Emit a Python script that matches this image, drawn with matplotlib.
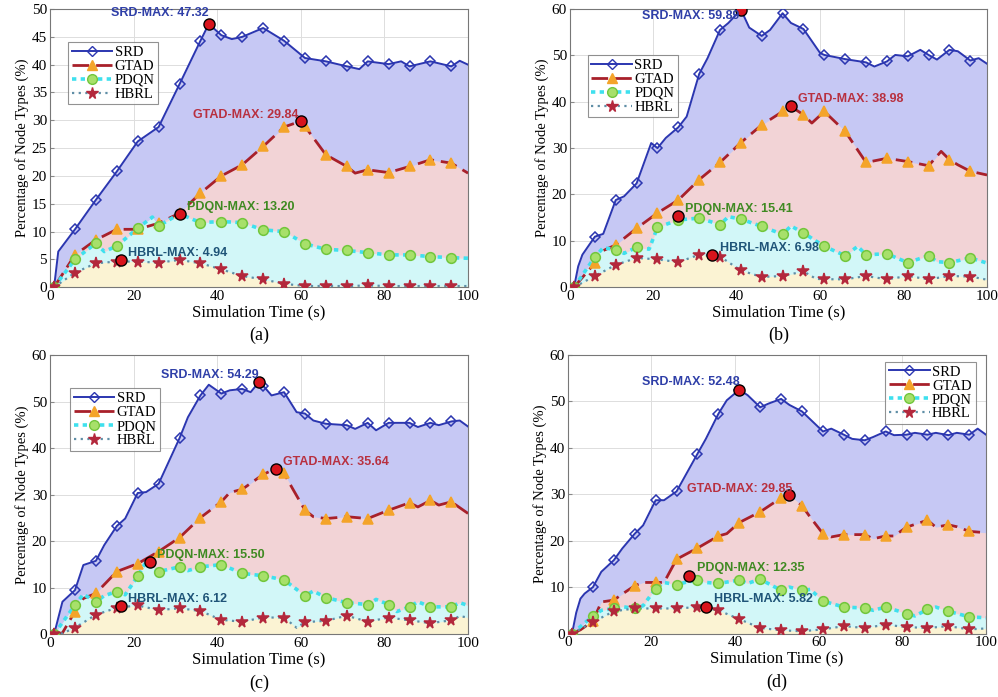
import numpy as np
import matplotlib
matplotlib.use("Agg")
import matplotlib.pyplot as plt

plt.rcParams["font.family"] = ["Liberation Serif", "DejaVu Serif"]

# ------------------------------------------------------------------ #
# Data (x = simulation time in s, y in %)     #
# ------------------------------------------------------------------ #
# (a)
a_srd_x = [1, 2, 6, 11, 16, 21, 26, 31, 36, 38, 41, 43.5, 46, 51, 56, 61, 66, 71, 74, 76, 81, 84, 86, 91, 96, 98, 100]
a_srd_y = [0, 6.4, 10.4, 15.7, 20.8, 26.2, 28.8, 36.5, 44.3, 47.32, 45.3, 44.6, 45.0, 46.6, 44.3, 41.2, 40.6, 39.7, 39.2, 40.6, 40.1, 40.6, 39.7, 40.6, 39.7, 40.7, 40.0]
a_gtad_x = [1, 6, 11, 16, 21, 26, 31, 36, 41, 46, 51, 56, 60, 61, 66, 71, 73, 76, 81, 86, 91, 96, 100]
a_gtad_y = [0, 5.8, 8.5, 10.4, 10.4, 11.5, 13.3, 16.9, 20.0, 22.0, 25.3, 28.8, 29.84, 28.9, 23.8, 21.7, 20.5, 21.1, 20.6, 21.7, 22.9, 22.3, 20.5]
a_pdqn_x = [1, 6, 11, 13, 16, 21, 24.5, 26, 31, 36, 41, 46, 51, 56, 61, 66, 71, 76, 81, 86, 91, 96, 100]
a_pdqn_y = [0, 5.0, 7.9, 6.4, 7.4, 10.6, 12.6, 11.0, 13.2, 11.6, 11.8, 11.6, 10.3, 10.0, 7.8, 6.8, 6.6, 6.2, 5.8, 5.8, 5.5, 5.3, 5.2]
a_hbrl_x = [1, 6, 11, 16, 21, 26, 31, 36, 41, 46, 51, 56, 61, 66, 71, 76, 81, 86, 91, 96, 100]
a_hbrl_y = [0, 2.6, 4.3, 4.6, 4.6, 4.4, 4.9, 4.3, 3.2, 2.0, 1.4, 0.6, 0.2, 0.2, 0.2, 0.3, 0.2, 0.2, 0.2, 0.2, 0.2]
a_max_x = [38, 60, 31, 17]
a_max_y = [47.32, 29.84, 13.20, 4.94]

# (b)
b_srd_x = [1, 2, 3, 6, 8, 11, 13, 16, 19.5, 21, 23, 26, 28, 31, 33, 36, 38, 41, 43, 46, 48, 51, 53, 56, 60, 61, 66, 71, 73, 76, 78, 81, 84, 86, 88, 91, 93, 96, 98, 100]
b_srd_y = [0, 4.5, 7.0, 10.9, 11.5, 18.8, 19.6, 22.4, 31.1, 30.0, 32.2, 34.5, 36.8, 46.0, 49.4, 55.5, 57.0, 59.89, 56.0, 54.2, 55.5, 59.1, 57.0, 55.7, 50.5, 50.1, 49.2, 48.5, 47.6, 48.7, 50.1, 49.8, 51.2, 50.1, 49.1, 51.2, 50.9, 48.9, 49.4, 48.2]
b_gtad_x = [1, 6, 8, 11, 16, 21, 26, 31, 36, 41, 46, 51, 53, 56, 58, 61, 66, 71, 76, 81, 86, 89, 91, 93, 96, 100]
b_gtad_y = [0, 5.2, 7.9, 9.1, 12.7, 16.0, 18.8, 23.2, 26.9, 31.2, 35.0, 37.9, 38.98, 37.2, 35.4, 37.9, 33.6, 26.9, 27.8, 27.1, 26.2, 29.3, 27.5, 26.4, 25.0, 24.2]
b_pdqn_x = [1, 6, 8, 11, 13, 16, 19, 21, 26, 31, 36, 38, 41, 46, 51, 53, 56, 61, 66, 69, 71, 76, 81, 86, 88, 91, 96, 100]
b_pdqn_y = [0, 6.5, 8.5, 8.1, 7.3, 8.6, 8.2, 12.9, 14.5, 14.9, 13.5, 15.2, 14.7, 13.1, 11.4, 13.2, 11.7, 8.8, 6.8, 8.8, 7.0, 7.2, 5.3, 6.8, 5.5, 5.3, 6.3, 5.2]
b_hbrl_x = [1, 6, 11, 16, 21, 26, 31, 36, 41, 46, 51, 56, 59, 61, 66, 71, 76, 81, 86, 91, 96, 100]
b_hbrl_y = [0, 2.4, 4.8, 6.3, 6.0, 5.4, 7.0, 6.6, 3.6, 2.2, 2.4, 3.4, 1.8, 1.7, 1.7, 2.4, 1.7, 2.4, 1.7, 2.4, 2.3, 1.6]
b_max_x = [41, 53, 26, 34]
b_max_y = [59.89, 38.98, 15.41, 6.98]

# (c)
c_srd_x = [1, 3, 6, 8, 11, 13, 16, 18, 21, 23, 26, 31, 33, 36, 38, 41, 43, 46, 48, 50, 51, 53, 56, 59, 61, 63, 66, 71, 73, 76, 78, 81, 86, 88, 91, 93, 96, 98, 100]
c_srd_y = [0, 7.0, 9.5, 14.9, 15.8, 19.2, 23.3, 24.9, 30.4, 30.6, 32.4, 42.2, 46.7, 51.4, 53.7, 51.8, 52.5, 52.8, 52.1, 54.29, 53.5, 51.4, 52.1, 47.8, 47.5, 46.0, 45.3, 45.0, 44.2, 45.5, 43.9, 45.5, 45.5, 44.6, 45.5, 45.0, 45.8, 46.0, 44.7]
c_gtad_x = [1, 3, 6, 8, 11, 13, 16, 21, 26, 31, 36, 41, 43, 46, 51, 54, 56, 58, 61, 63, 66, 71, 76, 81, 86, 88, 91, 93, 96, 100]
c_gtad_y = [0, 0.3, 4.9, 7.7, 8.8, 10.7, 13.5, 15.2, 17.8, 20.8, 25.1, 28.5, 30.5, 31.2, 34.4, 35.64, 34.6, 31.4, 26.7, 25.3, 24.9, 25.3, 24.9, 26.7, 28.3, 27.4, 28.8, 27.8, 28.5, 26.0]
c_pdqn_x = [1, 6, 8, 11, 13, 16, 18, 21, 23, 26, 31, 33, 36, 41, 46, 51, 56, 61, 63, 66, 71, 76, 78, 81, 83, 86, 88, 91, 96, 98, 100]
c_pdqn_y = [0, 6.3, 8.6, 7.0, 8.3, 9.2, 8.5, 12.5, 15.6, 13.5, 14.5, 13.7, 14.5, 15.0, 13.1, 12.6, 11.7, 8.3, 9.3, 7.9, 6.8, 6.4, 7.5, 6.4, 4.9, 5.9, 7.0, 5.9, 5.9, 6.8, 6.2]
c_hbrl_x = [1, 3, 6, 11, 16, 21, 26, 31, 36, 41, 46, 51, 56, 59, 61, 66, 71, 76, 81, 86, 91, 96, 98, 100]
c_hbrl_y = [0, 0.2, 1.4, 4.2, 5.7, 6.2, 5.2, 5.6, 5.0, 3.1, 2.7, 3.6, 3.6, 1.4, 2.6, 2.9, 4.0, 2.7, 3.6, 3.0, 2.4, 3.0, 3.9, 3.6]
c_max_x = [50, 54, 24, 17]
c_max_y = [54.29, 35.64, 15.50, 6.12]

# (d)
d_srd_x = [1, 2, 3, 4, 6, 8, 11, 13, 16, 18, 21, 23, 26, 31, 33, 36, 38, 41, 43, 46, 48, 51, 53, 56, 61, 63, 66, 68, 71, 73, 76, 78, 81, 83, 86, 88, 91, 93, 96, 98, 100]
d_srd_y = [0, 4.5, 7.5, 8.6, 10.0, 13.3, 15.8, 18.3, 21.5, 23.3, 28.7, 28.7, 30.6, 38.7, 41.9, 47.3, 50.2, 52.48, 51.3, 48.7, 49.5, 50.5, 49.2, 47.8, 43.5, 44.1, 42.8, 41.9, 41.6, 42.3, 43.5, 42.7, 42.8, 43.2, 42.8, 43.2, 42.7, 43.2, 42.8, 44.1, 42.8]
d_gtad_x = [1, 3, 6, 8, 11, 13, 16, 18, 21, 23, 26, 31, 36, 38, 41, 46, 51, 53, 56, 58, 61, 63, 66, 71, 73, 76, 78, 81, 86, 88, 91, 93, 96, 100]
d_gtad_y = [0, 0.8, 2.7, 6.8, 7.2, 8.5, 10.3, 11.0, 11.0, 11.0, 16.0, 18.4, 21.0, 21.5, 23.9, 26.2, 29.2, 29.85, 27.5, 25.0, 21.5, 20.8, 21.3, 21.3, 20.4, 21.0, 21.0, 22.9, 24.4, 22.9, 23.4, 23.0, 22.0, 21.7]
d_pdqn_x = [1, 3, 6, 8, 11, 13, 16, 18, 21, 23, 26, 28, 31, 33, 36, 41, 43, 46, 51, 53, 56, 58, 61, 66, 71, 73, 76, 81, 83, 86, 88, 91, 96, 100]
d_pdqn_y = [0, 1.5, 3.8, 5.0, 5.4, 5.8, 5.4, 6.0, 9.7, 11.0, 10.5, 11.0, 11.5, 11.0, 10.8, 11.5, 10.8, 11.7, 9.3, 10.0, 9.3, 9.5, 7.0, 5.7, 5.5, 5.0, 5.7, 4.3, 3.8, 5.2, 5.7, 4.8, 3.6, 3.4]
d_hbrl_x = [1, 6, 11, 16, 21, 26, 31, 36, 41, 46, 51, 56, 61, 66, 71, 76, 81, 86, 91, 96, 100]
d_hbrl_y = [0, 2.5, 4.8, 5.4, 5.4, 5.4, 5.7, 5.0, 3.1, 1.2, 0.7, 0.5, 0.9, 1.6, 1.2, 1.9, 1.4, 1.2, 1.6, 0.9, 1.1]
d_max_x = [41, 53, 29, 33]
d_max_y = [52.48, 29.85, 12.35, 5.82]

series_names = ["SRD", "GTAD", "PDQN", "HBRL"]
panel_labels = ["(a)", "(b)", "(c)", "(d)"]
y_tops = [50, 60, 60, 60]

# ------------------------------------------------------------------ #
# Styles                                                              #
# ------------------------------------------------------------------ #
line_col = ["#2b36b0", "#a8202a", "#3fe0ee", "#5f8ea6"]
fill_col = ["#c6c8f4", "#f2d3d6", "#d2f7f8", "#fbf3d3"]
mk_face = ["none", "#f4a42a", "#a7e06a", "#b3283c"]
mk_edge = ["#2b36b0", "#f4a42a", "#72c63c", "#b3283c"]
markers = ["D", "^", "o", "*"]
mk_size = [5.5, 7, 7, 8.5]
styles = ["-", (0, (6, 2.5)), (0, (1.2, 1.2)), (0, (1, 2))]
widths = [1.4, 2.0, 2.6, 1.6]
txt_col = ["#2f3fa8", "#b8303f", "#3f8a22", "#1f5478"]

# where each MAX label is placed (data coords) and its alignment
lbl_pos = [
    [(38, 49.3, "right"), (59.5, 31.0, "right"), (32.7, 14.4, "left"), (18.7, 6.1, "left")],
    [(40.7, 58.6, "right"), (54.7, 40.6, "left"), (27.5, 16.8, "left"), (35.9, 8.4, "left")],
    [(49.8, 55.8, "right"), (55.8, 37.1, "left"), (25.7, 17.0, "left"), (18.7, 7.6, "left")],
    [(41, 54.1, "right"), (53.8, 31.2, "right"), (30.9, 14.1, "left"), (34.9, 7.4, "left")],
]

panels = [
    [(a_srd_x, a_srd_y), (a_gtad_x, a_gtad_y), (a_pdqn_x, a_pdqn_y), (a_hbrl_x, a_hbrl_y), (a_max_x, a_max_y)],
    [(b_srd_x, b_srd_y), (b_gtad_x, b_gtad_y), (b_pdqn_x, b_pdqn_y), (b_hbrl_x, b_hbrl_y), (b_max_x, b_max_y)],
    [(c_srd_x, c_srd_y), (c_gtad_x, c_gtad_y), (c_pdqn_x, c_pdqn_y), (c_hbrl_x, c_hbrl_y), (c_max_x, c_max_y)],
    [(d_srd_x, d_srd_y), (d_gtad_x, d_gtad_y), (d_pdqn_x, d_pdqn_y), (d_hbrl_x, d_hbrl_y), (d_max_x, d_max_y)],
]

axes_rect = [
    [0.050, 0.588, 0.419, 0.399],
    [0.571, 0.588, 0.418, 0.399],
    [0.050, 0.090, 0.419, 0.400],
    [0.569, 0.091, 0.419, 0.400],
]
legend_anchor = [(0.043, 0.881, "upper left"), (0.043, 0.835, "upper left"),
                 (0.048, 0.882, "upper left"), (0.975, 0.975, "upper right")]

marker_grid = np.arange(1, 100, 5)

fig = plt.figure(figsize=(9.98, 6.97), dpi=100)

for p, data in enumerate(panels):
    ax = fig.add_axes(axes_rect[p])
    handles = []
    # fills first, biggest series at the back
    for s in range(4):
        x, y = data[s]
        ax.fill_between(x, 0, y, color=fill_col[s], lw=0, zorder=1 + s * 0.1)
    for s in range(4):
        x, y = np.array(data[s][0], float), np.array(data[s][1], float)
        ax.plot(x, y, color=line_col[s], ls=styles[s], lw=widths[s], zorder=3 + s * 0.1)
        sel = np.isin(x, marker_grid)
        ax.plot(x[sel], y[sel], ls="none", marker=markers[s], ms=mk_size[s],
                mfc=mk_face[s], mec=mk_edge[s], mew=1.1, zorder=4 + s * 0.1)
        h, = ax.plot([], [], color=line_col[s], ls=styles[s], lw=widths[s],
                     marker=markers[s], ms=mk_size[s], mfc=mk_face[s], mec=mk_edge[s])
        handles.append(h)

    mx, my = data[4]
    ax.plot(mx, my, ls="none", marker="o", ms=8, mfc="#d8141c", mec="black",
            mew=1.0, zorder=6)
    for s in range(4):
        tx, ty, ha = lbl_pos[p][s]
        ax.text(tx, ty, f"{series_names[s]}-MAX: {my[s]:.2f}", color=txt_col[s],
                fontsize=9, fontweight="bold", family=["Liberation Sans", "DejaVu Sans"],
                ha=ha, va="center", zorder=7)

    ax.set_xlim(0, 100)
    ax.set_ylim(0, y_tops[p])
    ax.set_xticks(np.arange(0, 101, 20))
    ax.set_yticks(np.arange(0, y_tops[p] + 1, 5 if y_tops[p] == 50 else 10))
    ax.tick_params(labelsize=11, direction="in", length=3, color="#888888", pad=2)
    ax.grid(True, color="#dddddd", lw=0.7)
    ax.set_axisbelow(True)
    for sp in ax.spines.values():
        sp.set_color("#777777")
        sp.set_linewidth(0.8)
    ax.set_ylabel("Percentage of Node Types (%)", fontsize=10.5, labelpad=2)
    ax.set_xlabel("Simulation Time (s)", fontsize=12, labelpad=1)
    ax.text(0.5, -0.175, panel_labels[p], transform=ax.transAxes, ha="center",
            va="center", fontsize=13)

    lx, ly, loc = legend_anchor[p]
    leg = ax.legend(handles, series_names, loc=loc, bbox_to_anchor=(lx, ly),
                    fontsize=10.5, frameon=True, fancybox=False, handlelength=2.8,
                    handletextpad=0.15, borderpad=0.25, labelspacing=0.05,
                    borderaxespad=0)
    leg.get_frame().set_edgecolor("#777777")
    leg.get_frame().set_linewidth(0.8)
    leg.set_zorder(8)

plt.savefig("out.png", dpi=100)
